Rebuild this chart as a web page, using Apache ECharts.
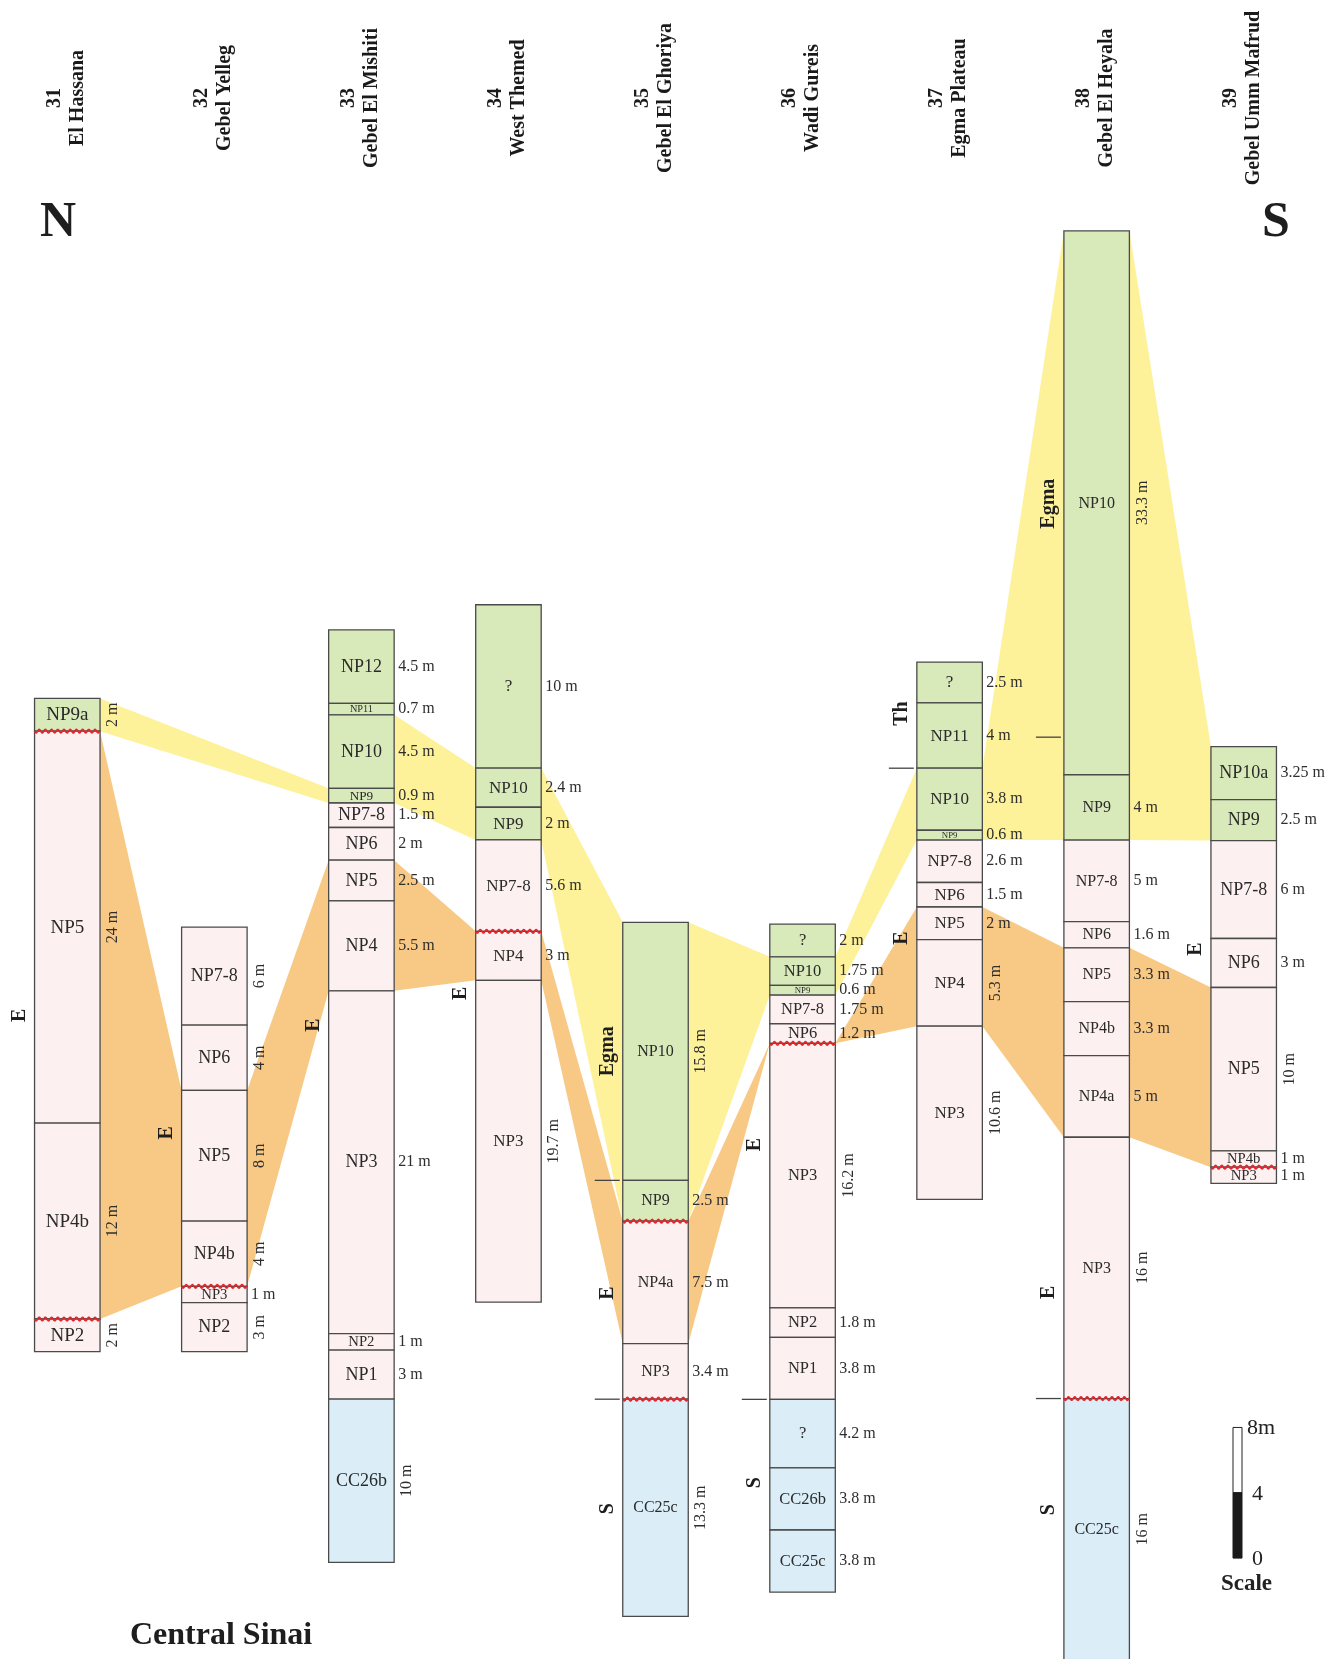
<!DOCTYPE html>
<html>
<head>
<meta charset="utf-8">
<title>Central Sinai – biostratigraphic correlation</title>
<script src="https://cdn.jsdelivr.net/npm/echarts@6/dist/echarts.min.js"></script>
<style>
  html, body { margin: 0; padding: 0; background: #ffffff; }
  #chart { width: 1340px; height: 1659px; }
</style>
</head>
<body>
<div id="chart"></div>
<script>
// ---------------- data ----------------
// Section numbers and names, north to south
const sectionNumbers = [31, 32, 33, 34, 35, 36, 37, 38, 39];
const sectionNames = ['El Hassana', 'Gebel Yelleg', 'Gebel El Mishiti', 'West Themed', 'Gebel El Ghoriya',
  'Wadi Gureis', 'Egma Plateau', 'Gebel El Heyala', 'Gebel Umm Mafrud'];

// Biozones of each section, listed from top to base
const zones = [
  ['NP9a', 'NP5', 'NP4b', 'NP2'],
  ['NP7-8', 'NP6', 'NP5', 'NP4b', 'NP3', 'NP2'],
  ['NP12', 'NP11', 'NP10', 'NP9', 'NP7-8', 'NP6', 'NP5', 'NP4', 'NP3', 'NP2', 'NP1', 'CC26b'],
  ['?', 'NP10', 'NP9', 'NP7-8', 'NP4', 'NP3'],
  ['NP10', 'NP9', 'NP4a', 'NP3', 'CC25c'],
  ['?', 'NP10', 'NP9', 'NP7-8', 'NP6', 'NP3', 'NP2', 'NP1', '?', 'CC26b', 'CC25c'],
  ['?', 'NP11', 'NP10', 'NP9', 'NP7-8', 'NP6', 'NP5', 'NP4', 'NP3'],
  ['NP10', 'NP9', 'NP7-8', 'NP6', 'NP5', 'NP4b', 'NP4a', 'NP3', 'CC25c'],
  ['NP10a', 'NP9', 'NP7-8', 'NP6', 'NP5', 'NP4b', 'NP3']
];

// Thickness (m) of each biozone, same order
const thicknesses = [
  [2, 24, 12, 2],
  [6, 4, 8, 4, 1, 3],
  [4.5, 0.7, 4.5, 0.9, 1.5, 2, 2.5, 5.5, 21, 1, 3, 10],
  [10, 2.4, 2, 5.6, 3, 19.7],
  [15.8, 2.5, 7.5, 3.4, 13.3],
  [2, 1.75, 0.6, 1.75, 1.2, 16.2, 1.8, 3.8, 4.2, 3.8, 3.8],
  [2.5, 4, 3.8, 0.6, 2.6, 1.5, 2, 5.3, 10.6],
  [33.3, 4, 5, 1.6, 3.3, 3.3, 5, 16, 16],
  [3.25, 2.5, 6, 3, 10, 1, 1]
];

// Zone group per biozone: U = NP9 and younger, L = NP1–NP8, C = Cretaceous
const zoneGroups = ['ULLL', 'LLLLLL', 'UUUULLLLLLLC', 'UUULLL', 'UULLC',
  'UUULLLLLCCC', 'UUUULLLLL', 'UULLLLLLC', 'UULLLLL'];

// Unconformities: [section, zone directly below the surface]
const unconformities = [[0, 'NP5'], [0, 'NP2'], [1, 'NP3'], [3, 'NP4'], [4, 'NP4a'],
  [4, 'CC25c'], [5, 'NP3'], [7, 'CC25c'], [8, 'NP3']];

// Correlated intervals: [sectionA, top zone, zone below base, sectionB, top zone, zone below base]
const linksNP9NP10 = [
  [0, 'NP9a', 'NP5', 2, 'NP9', 'NP7-8'],
  [2, 'NP10', 'NP7-8', 3, 'NP10', 'NP7-8'],
  [3, 'NP10', 'NP7-8', 4, 'NP10', 'NP4a'],
  [4, 'NP10', 'NP4a', 5, 'NP10', 'NP7-8'],
  [5, 'NP10', 'NP7-8', 6, 'NP10', 'NP7-8'],
  [6, 'NP10', 'NP7-8', 7, 'NP10', 'NP7-8'],
  [7, 'NP10', 'NP7-8', 8, 'NP10a', 'NP7-8']
];
const linksNP4NP5 = [
  [0, 'NP5', 'NP2', 1, 'NP5', 'NP3'],
  [1, 'NP5', 'NP3', 2, 'NP5', 'NP3'],
  [2, 'NP5', 'NP3', 3, 'NP4', 'NP3'],
  [3, 'NP4', 'NP3', 4, 'NP4a', 'NP3'],
  [4, 'NP4a', 'NP3', 5, 'NP3', 'NP3'],
  [5, 'NP3', 'NP3', 6, 'NP5', 'NP3'],
  [6, 'NP5', 'NP3', 7, 'NP5', 'NP3'],
  [7, 'NP5', 'NP3', 8, 'NP5', 'NP3']
];

// Formation names: [section, name, depth (m) below section top]
const formations = [
  [0, 'E', 19.4], [1, 'E', 12.6], [2, 'E', 24.2], [3, 'E', 23.8],
  [4, 'Egma', 7.9], [4, 'E', 22.7], [4, 'S', 35.9],
  [5, 'E', 13.5], [5, 'S', 34.2],
  [6, 'Th', 3.15], [6, 'E', 16.9],
  [7, 'Egma', 16.7], [7, 'E', 65], [7, 'S', 78.3],
  [8, 'E', 12.4]
];
// Formation boundaries: [section, depth (m) below section top]
const formationBoundaries = [[4, 15.8], [4, 29.2], [5, 29.1], [6, 6.5], [7, 31.0], [7, 71.5]];

// Scale bar ticks (m)
const scaleValues = [0, 4, 8];
const scaleLabels = ['0', '4', '8m'];

// ---------------- layout ----------------
const PX_PER_M = 16.33;          // vertical scale
const COL_STEP = 147.05;         // px between section centres
const FIRST_COL_X = 67.3;        // px of first section centre
const HALF = 32.75 / COL_STEP;   // half column width in section units
const X_MIN = -FIRST_COL_X / COL_STEP;
const X_MAX = (1340 - FIRST_COL_X) / COL_STEP;
const Y_MAX = 1659 / PX_PER_M;

// Elevation (m) of each section's base on the hanging datum
const sectionBase = [18.82, 18.82, 5.92, 21.86, 2.61, 4.10, 28.15, -0.05, 29.12];
const zoneFont = [19, 18, 18, 17, 16, 16.5, 17, 16, 18];
// thickness labels written vertically (1) or horizontally (0)
const verticalThickness = [
  [1, 1, 1, 1],
  [1, 1, 1, 1, 0, 1],
  [0, 0, 0, 0, 0, 0, 0, 0, 0, 0, 0, 1],
  [0, 0, 0, 0, 0, 1],
  [1, 0, 0, 0, 1],
  [0, 0, 0, 0, 0, 1, 0, 0, 0, 0, 0],
  [0, 0, 0, 0, 0, 0, 0, 1, 1],
  [1, 0, 0, 0, 0, 0, 0, 1, 1],
  [0, 0, 0, 0, 1, 0, 0]
];
const SCALE_X = (1237.5 - FIRST_COL_X) / COL_STEP;
const SCALE_BASE = 6.18;

const SERIF = '"Liberation Serif", "Times New Roman", Times, serif';
const FILLS = { U: '#d8e9ba', L: '#fdf0f0', C: '#dbeef8' };
const YELLOW = '#fdf19a';
const ORANGE = '#f8c885';
const BORDER = '#4a4a4a';

// ---------------- derived geometry ----------------
const units = [];
const zoneTop = [];
const sectionTop = [];
zones.forEach((list, c) => {
  let top = sectionBase[c] + thicknesses[c].reduce((a, b) => a + b, 0);
  sectionTop[c] = top;
  zoneTop[c] = {};
  list.forEach((z, k) => {
    const t = thicknesses[c][k];
    if (!(z in zoneTop[c])) zoneTop[c][z] = top;
    units.push({ c, k, name: z, thick: t, top, bottom: top - t, group: zoneGroups[c][k] });
    top -= t;
  });
});

const links = linksNP9NP10.map(l => ({ l, color: YELLOW })).concat(linksNP4NP5.map(l => ({ l, color: ORANGE })));

// ---------------- chart ----------------
const chart = echarts.init(document.getElementById('chart'), null, { renderer: 'canvas', width: 1340, height: 1659 });

function linkItem(params, api) {
  const { l, color } = links[params.dataIndex];
  const [a, ta, ba, b, tb, bb] = l;
  const pts = [
    api.coord([a + HALF, zoneTop[a][ta]]),
    api.coord([b - HALF, zoneTop[b][tb]]),
    api.coord([b - HALF, zoneTop[b][bb]]),
    api.coord([a + HALF, zoneTop[a][ba]])
  ];
  return { type: 'polygon', shape: { points: pts }, style: { fill: color, stroke: null } };
}

function unitItem(params, api) {
  const u = units[params.dataIndex];
  const tl = api.coord([u.c - HALF, u.top]);
  const br = api.coord([u.c + HALF, u.bottom]);
  const h = br[1] - tl[1];
  const cx = (tl[0] + br[0]) / 2;
  const cy = (tl[1] + br[1]) / 2;
  const fs = h < 17 ? Math.max(8, h * 0.9) : zoneFont[u.c];
  const vertical = verticalThickness[u.c][u.k] === 1;
  const tText = u.thick + ' m';
  const thickLabel = vertical
    ? { type: 'text', x: br[0] + 13, y: cy, rotation: Math.PI / 2,
        style: { text: tText, fontFamily: SERIF, fontSize: 16, fill: '#2e2e2e', align: 'center', verticalAlign: 'middle' } }
    : { type: 'text', x: br[0] + 4, y: cy,
        style: { text: tText, fontFamily: SERIF, fontSize: 16, fill: '#2e2e2e', align: 'left', verticalAlign: 'middle' } };
  return {
    type: 'group',
    children: [
      { type: 'rect', shape: { x: tl[0], y: tl[1], width: br[0] - tl[0], height: h },
        style: { fill: FILLS[u.group], stroke: BORDER, lineWidth: 1.3 } },
      { type: 'text', x: cx, y: cy + 0.5,
        style: { text: u.name, fontFamily: SERIF, fontSize: fs, fill: '#2a2a2a', align: 'center', verticalAlign: 'middle' } },
      thickLabel
    ]
  };
}

function unconformityItem(params, api) {
  const [c, z] = unconformities[params.dataIndex];
  const left = api.coord([c - HALF, zoneTop[c][z]]);
  const right = api.coord([c + HALF, zoneTop[c][z]]);
  const pts = [];
  for (let x = left[0]; x <= right[0] + 0.01; x += 0.5) {
    pts.push([x, left[1] + 1.7 * Math.sin(2 * Math.PI * (x - left[0]) / 6.2)]);
  }
  return { type: 'polyline', shape: { points: pts }, style: { stroke: '#e3262b', lineWidth: 1.7, fill: null } };
}

function formationItem(params, api) {
  const [c, name, depth] = formations[params.dataIndex];
  const p = api.coord([c - HALF, sectionTop[c] - depth]);
  return { type: 'text', x: p[0] - 15, y: p[1], rotation: Math.PI / 2,
    style: { text: name, fontFamily: SERIF, fontWeight: 'bold', fontSize: 20, fill: '#1e1e1e', align: 'center', verticalAlign: 'middle' } };
}

function boundaryItem(params, api) {
  const [c, depth] = formationBoundaries[params.dataIndex];
  const p = api.coord([c - HALF, sectionTop[c] - depth]);
  return { type: 'line', shape: { x1: p[0] - 28, y1: p[1], x2: p[0] - 3, y2: p[1] }, style: { stroke: '#444', lineWidth: 1.3 } };
}

function titleItem(params, api) {
  const c = params.dataIndex;
  const p = api.coord([c, 0]);
  return { type: 'text', x: p[0] - 1, y: 98, rotation: Math.PI / 2,
    style: { text: sectionNumbers[c] + '\n' + sectionNames[c], fontFamily: SERIF, fontWeight: 'bold', fontSize: 20,
      lineHeight: 23, fill: '#1a1a1a', align: 'center', verticalAlign: 'middle' } };
}

function scaleItem(params, api) {
  const p0 = api.coord([SCALE_X, SCALE_BASE + scaleValues[0]]);
  const p1 = api.coord([SCALE_X, SCALE_BASE + scaleValues[1]]);
  const p2 = api.coord([SCALE_X, SCALE_BASE + scaleValues[2]]);
  const w = 9;
  const children = [
    { type: 'rect', shape: { x: p2[0] - w / 2, y: p2[1], width: w, height: p1[1] - p2[1] },
      style: { fill: '#fff', stroke: '#222', lineWidth: 1 } },
    { type: 'rect', shape: { x: p1[0] - w / 2, y: p1[1], width: w, height: p0[1] - p1[1] },
      style: { fill: '#1a1a1a', stroke: '#1a1a1a', lineWidth: 1 } }
  ];
  scaleValues.forEach((v, i) => {
    const p = api.coord([SCALE_X, SCALE_BASE + v]);
    children.push({ type: 'text', x: p[0] + w / 2 + (i === 2 ? 5 : 10), y: p[1] + 1,
      style: { text: scaleLabels[i], fontFamily: SERIF, fontSize: 22, fill: '#222', align: 'left', verticalAlign: 'middle' } });
  });
  children.push({ type: 'text', x: p0[0] + 9, y: p0[1] + 26,
    style: { text: 'Scale', fontFamily: SERIF, fontWeight: 'bold', fontSize: 23, fill: '#222', align: 'center', verticalAlign: 'middle' } });
  return { type: 'group', children };
}

chart.setOption({
  animation: false,
  backgroundColor: '#ffffff',
  grid: { left: 0, right: 0, top: 0, bottom: 0 },
  xAxis: { type: 'value', min: X_MIN, max: X_MAX, show: false },
  yAxis: { type: 'value', min: 0, max: Y_MAX, show: false },
  tooltip: { show: false },
  series: [
    { type: 'custom', name: 'correlation', z: 1, clip: false, silent: true, renderItem: linkItem,
      encode: { x: 0, y: 1 }, data: links.map(o => [o.l[0], zoneTop[o.l[0]][o.l[1]]]) },
    { type: 'custom', name: 'biozones', z: 2, clip: false, silent: true, renderItem: unitItem,
      encode: { x: 0, y: 1 }, data: units.map(u => [u.c, u.bottom]) },
    { type: 'custom', name: 'unconformities', z: 3, clip: false, silent: true, renderItem: unconformityItem,
      encode: { x: 0, y: 1 }, data: unconformities.map(([c, z]) => [c, zoneTop[c][z]]) },
    { type: 'custom', name: 'formations', z: 3, clip: false, silent: true, renderItem: formationItem,
      encode: { x: 0, y: 1 }, data: formations.map(([c, , d]) => [c, sectionTop[c] - d]) },
    { type: 'custom', name: 'formation boundaries', z: 3, clip: false, silent: true, renderItem: boundaryItem,
      encode: { x: 0, y: 1 }, data: formationBoundaries.map(([c, d]) => [c, sectionTop[c] - d]) },
    { type: 'custom', name: 'sections', z: 3, clip: false, silent: true, renderItem: titleItem,
      encode: { x: 0, y: 1 }, data: sectionNumbers.map((n, i) => [i, Y_MAX - 6]) },
    { type: 'custom', name: 'scale', z: 3, clip: false, silent: true, renderItem: scaleItem,
      encode: { x: 0, y: 1 }, data: [[SCALE_X, SCALE_BASE]] }
  ],
  graphic: [
    { type: 'text', left: 40, top: 198, style: { text: 'N', fontFamily: SERIF, fontWeight: 'bold', fontSize: 50, fill: '#1e1e1e' } },
    { type: 'text', left: 1262, top: 198, style: { text: 'S', fontFamily: SERIF, fontWeight: 'bold', fontSize: 50, fill: '#1e1e1e' } },
    { type: 'text', left: 130, top: 1620, style: { text: 'Central Sinai', fontFamily: SERIF, fontWeight: 'bold', fontSize: 32, fill: '#1e1e1e' } }
  ]
});
</script>
</body>
</html>
